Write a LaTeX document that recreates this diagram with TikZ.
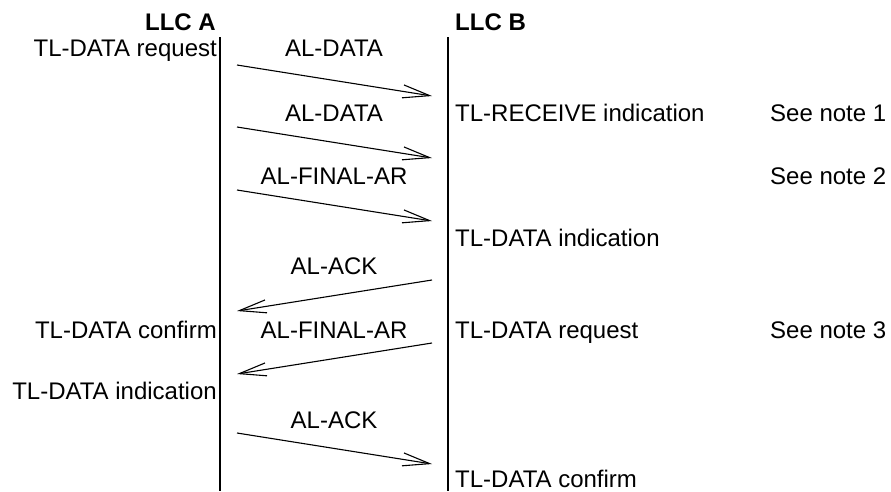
\documentclass[tikz,border=0pt]{standalone}
\usepackage{fontspec}
\setmainfont{Liberation Sans}
\usetikzlibrary{arrows.meta}
\begin{document}
\begin{tikzpicture}[x=1pt,y=-1pt,
  txt/.style={inner sep=0pt,font=\fontsize{24}{28}\selectfont},
  hdr/.style={inner sep=0pt,font=\fontsize{24}{28}\selectfont\bfseries},
  life/.style={line width=2pt},
  msg/.style={line width=1.1pt,-{Straight Barb[length=27pt,width=13pt,line width=1.1pt]}}]
\useasboundingbox (0,0) rectangle (891,491);
% headers
\node[hdr,anchor=base east] (llca) at (216,30) {LLC A};
\node[hdr,anchor=base west] (llcb) at (455,30) {LLC B};
% lifelines
\coordinate (atop) at (220,37);
\coordinate (abot) at (220,491);
\coordinate (btop) at (448,37);
\coordinate (bbot) at (448,491);
\draw[life] (atop) -- (abot);
\draw[life] (btop) -- (bbot);
% message end points
\coordinate (a1) at (237,65);  \coordinate (b1) at (432,96);
\coordinate (a2) at (237,127); \coordinate (b2) at (432,158);
\coordinate (a3) at (237,190); \coordinate (b3) at (432,221);
\coordinate (b4) at (432,280); \coordinate (a4) at (237,311);
\coordinate (b5) at (432,343); \coordinate (a5) at (237,374);
\coordinate (a6) at (237,433); \coordinate (b6) at (432,464);
\draw[msg] (a1) -- (b1);
\draw[msg] (a2) -- (b2);
\draw[msg] (a3) -- (b3);
\draw[msg] (b4) -- (a4);
\draw[msg] (b5) -- (a5);
\draw[msg] (a6) -- (b6);
% message labels
\node[txt,anchor=base] (m1) at (334,56) {AL-DATA};
\node[txt,anchor=base] (m2) at (334,121) {AL-DATA};
\node[txt,anchor=base] (m3) at (334,184) {AL-FINAL-AR};
\node[txt,anchor=base] (m4) at (334,274) {AL-ACK};
\node[txt,anchor=base] (m5) at (334,338) {AL-FINAL-AR};
\node[txt,anchor=base] (m6) at (334,428) {AL-ACK};
% LLC A side
\node[txt,anchor=base east] (la1) at (217,56) {TL-DATA request};
\node[txt,anchor=base east] (la2) at (217,338) {TL-DATA confirm};
\node[txt,anchor=base east] (la3) at (217,399) {TL-DATA indication};
% LLC B side
\node[txt,anchor=base west] (lb1) at (455,121) {TL-RECEIVE indication};
\node[txt,anchor=base west] (lb2) at (455,246) {TL-DATA indication};
\node[txt,anchor=base west] (lb3) at (455,338) {TL-DATA request};
\node[txt,anchor=base west] (lb4) at (455,487) {TL-DATA confirm};
% notes
\node[txt,anchor=base west] (n1) at (770,121) {See note 1};
\node[txt,anchor=base west] (n2) at (770,184) {See note 2};
\node[txt,anchor=base west] (n3) at (770,338) {See note 3};
\end{tikzpicture}
\end{document}
